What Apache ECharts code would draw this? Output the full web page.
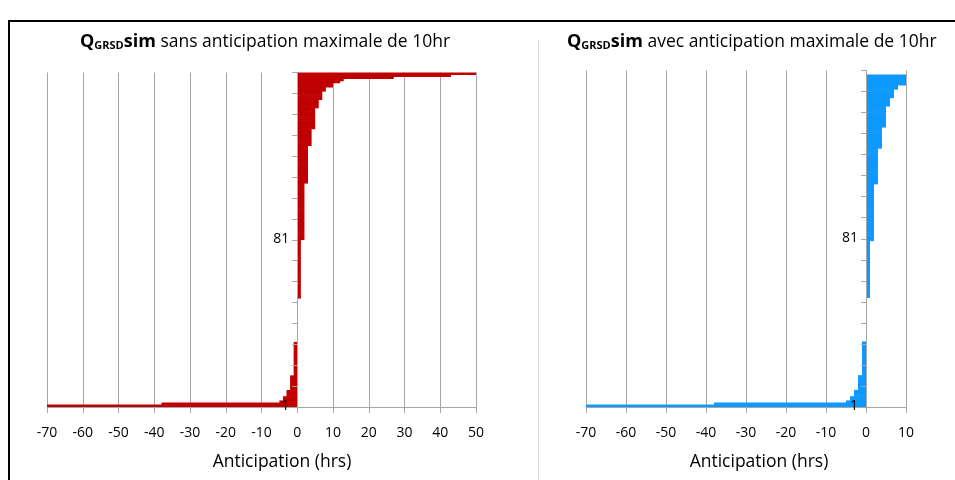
<!DOCTYPE html>
<html>
<head>
<meta charset="utf-8">
<script src="https://cdn.jsdelivr.net/npm/echarts@6/dist/echarts.min.js"></script>
<style>
html,body{margin:0;padding:0;background:#fff;}
#chart{width:955px;height:480px;}
</style>
</head>
<body>
<div id="chart"></div>
<script>
// ---- data ----
const categories = [];
for (let i = 1; i <= 160; i++) categories.push(String(i));

const leftTitle = 'sans anticipation maximale de 10hr';
const rightTitle = 'avec anticipation maximale de 10hr';
const axisName = 'Anticipation (hrs)';

const leftTicks = {min: -70, max: 50, interval: 10};
const rightTicks = {min: -70, max: 10, interval: 10};

const sansValues = [
  -70,-38,-5,-4,-4,-3,-3,-3,-2,-2,-2,-2,-2,-2,-2,
  -1,-1,-1,-1,-1,-1,-1,-1,-1,-1,-1,-1,-1,-1,-1,-1,
  0,0,0,0,0,0,0,0,0,0,0,0,0,0,0,0,0,0,0,0,0,
  1,1,1,1,1,1,1,1,1,1,1,1,1,1,
  1,1,1,1,1,1,1,1,1,1,1,1,1,1,
  2,2,2,2,2,2,2,2,2,2,2,2,2,2,
  2,2,2,2,2,2,2,2,2,2,2,2,2,
  3,3,3,3,3,3,3,3,3,3,3,3,3,3,3,3,3,3,
  4,4,4,4,4,4,4,4,
  5,5,5,5,5,5,5,5,5,5,
  6,6,6,6,
  7,7,7,7,
  8,8,
  10,10,
  12,13,27,43,50
];

const avecValues = [
  -70,-38,-5,-4,-4,-3,-3,-3,-2,-2,-2,-2,-2,-2,-2,
  -1,-1,-1,-1,-1,-1,-1,-1,-1,-1,-1,-1,-1,-1,-1,-1,
  0,0,0,0,0,0,0,0,0,0,0,0,0,0,0,0,0,0,0,0,0,
  1,1,1,1,1,1,1,1,1,1,1,1,1,1,
  1,1,1,1,1,1,1,1,1,1,1,1,1,
  2,2,2,2,2,2,2,2,2,2,2,2,2,2,
  2,2,2,2,2,2,2,2,2,2,2,2,2,
  3,3,3,3,3,3,3,3,3,3,3,3,3,3,3,3,3,
  4,4,4,4,4,4,4,4,4,4,
  5,5,5,5,5,5,5,5,5,5,
  6,6,6,6,
  7,7,7,7,
  8,8,
  10,10,10,10,10,
  null,null
];

// ---- chart ----
const FONT = '"Open Sans", "Liberation Sans", sans-serif';
const chart = echarts.init(document.getElementById('chart'), null, {renderer: 'canvas'});

const grids = [
  {left: 47, top: 72.5, width: 429, height: 334.5},
  {left: 586, top: 70.5, width: 320, height: 336.5}
];

function xAxisDef(gridIndex, t) {
  return {
    type: 'value', gridIndex: gridIndex, min: t.min, max: t.max, interval: t.interval,
    axisLine: {show: true, onZero: false, lineStyle: {color: '#a6a6a6', width: 1}},
    axisTick: {show: true, length: 6, lineStyle: {color: '#a6a6a6'}},
    axisLabel: {color: '#000', fontSize: 14, fontFamily: FONT, margin: 19},
    splitLine: {show: true, lineStyle: {color: '#a6a6a6', width: 1}}
  };
}
function yAxisDef(gridIndex, t) {
  // shift the category axis so it sits on the value 0 of the x axis
  const g = grids[gridIndex];
  const zeroOffset = (0 - t.min) / (t.max - t.min) * g.width;
  return {
    type: 'category', gridIndex: gridIndex, data: categories, boundaryGap: true,
    position: 'left', offset: -zeroOffset,
    axisLine: {show: true, onZero: false, lineStyle: {color: '#a6a6a6', width: 1}},
    axisTick: {show: true, interval: 9, length: 5, alignWithLabel: false, lineStyle: {color: '#a6a6a6'}},
    axisLabel: {interval: 79, color: '#000', fontSize: 14, fontFamily: FONT, margin: 8},
    splitLine: {show: false},
    z: 5
  };
}
function titleText(x, rest) {
  return {
    type: 'text', left: x, top: 33,
    style: {
      text: '{q|Q}{s|GRSD}{b|sim}{n| ' + rest + '}',
      rich: {
        q: {fontSize: 18, fontWeight: 'bold', fontFamily: FONT, fill: '#000', verticalAlign: 'bottom', lineHeight: 24},
        s: {fontSize: 11, fontWeight: 'bold', fontFamily: FONT, fill: '#000', verticalAlign: 'bottom', lineHeight: 20},
        b: {fontSize: 18, fontWeight: 'bold', fontFamily: FONT, fill: '#000', verticalAlign: 'bottom', lineHeight: 24},
        n: {fontSize: 17.5, fontFamily: FONT, fill: '#000', verticalAlign: 'bottom', lineHeight: 24}
      }
    }
  };
}

const option = {
  animation: false,
  backgroundColor: '#fff',
  grid: grids,
  xAxis: [xAxisDef(0, leftTicks), xAxisDef(1, rightTicks)],
  yAxis: [yAxisDef(0, leftTicks), yAxisDef(1, rightTicks)],
  series: [
    {type: 'bar', xAxisIndex: 0, yAxisIndex: 0, data: sansValues, barWidth: 2.7,
     itemStyle: {color: '#c00000'}, silent: true, z: 2},
    {type: 'bar', xAxisIndex: 1, yAxisIndex: 1, data: avecValues, barWidth: 2.7,
     itemStyle: {color: '#0d99ff'}, silent: true, z: 2}
  ],
  graphic: [
    {type: 'line', shape: {x1: 9, y1: 21, x2: 955, y2: 21}, style: {stroke: '#000', lineWidth: 2}},
    {type: 'line', shape: {x1: 9, y1: 20, x2: 9, y2: 480}, style: {stroke: '#000', lineWidth: 2}},
    {type: 'line', shape: {x1: 538.5, y1: 40, x2: 538.5, y2: 480}, style: {stroke: '#d9d9d9', lineWidth: 1}},
    titleText(80, leftTitle),
    titleText(567, rightTitle),
    {type: 'text', x: 282, y: 462, style: {text: axisName, fontSize: 17.5, fontFamily: FONT, fill: '#000', align: 'center', verticalAlign: 'middle'}},
    {type: 'text', x: 759, y: 462, style: {text: axisName, fontSize: 17.5, fontFamily: FONT, fill: '#000', align: 'center', verticalAlign: 'middle'}}
  ]
};
chart.setOption(option);
</script>
</body>
</html>
